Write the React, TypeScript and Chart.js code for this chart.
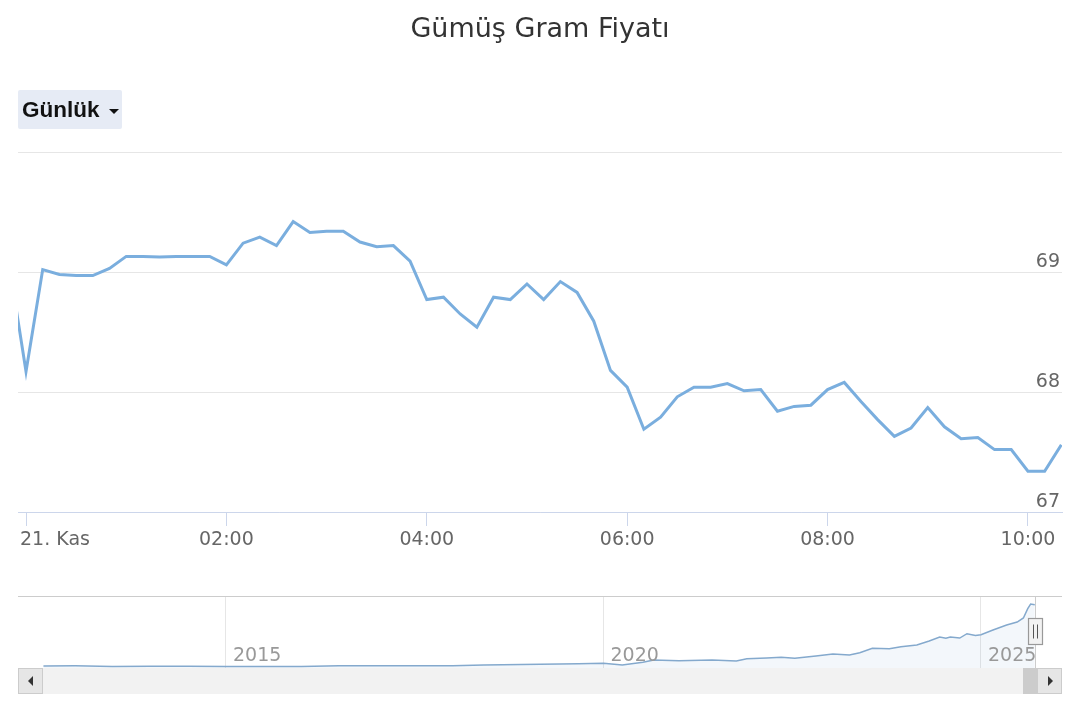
import React, { useEffect, useRef } from "react";
import { Chart, registerables } from "chart.js";

Chart.register(...registerables);

const FONT = "'DejaVu Sans', Verdana, sans-serif";

const chartTitle = "Gümüş Gram Fiyatı";
const rangeLabel = "Günlük";
const dayLabel = "21. Kas";

// intraday price, 10-minute bars (23:50 belongs to the previous evening)
const times = [
  "23:50",
  "00:00", "00:10", "00:20", "00:30", "00:40", "00:50",
  "01:00", "01:10", "01:20", "01:30", "01:40", "01:50",
  "02:00", "02:10", "02:20", "02:30", "02:40", "02:50",
  "03:00", "03:10", "03:20", "03:30", "03:40", "03:50",
  "04:00", "04:10", "04:20", "04:30", "04:40", "04:50",
  "05:00", "05:10", "05:20", "05:30", "05:40", "05:50",
  "06:00", "06:10", "06:20", "06:30", "06:40", "06:50",
  "07:00", "07:10", "07:20", "07:30", "07:40", "07:50",
  "08:00", "08:10", "08:20", "08:30", "08:40", "08:50",
  "09:00", "09:10", "09:20", "09:30", "09:40", "09:50",
  "10:00", "10:10", "10:20",
];
const prices = [
  69.06,
  68.17, 69.02, 68.98, 68.97, 68.97, 69.03,
  69.13, 69.13, 69.125, 69.13, 69.13, 69.13,
  69.06, 69.24, 69.29, 69.22, 69.42, 69.33,
  69.34, 69.34, 69.25, 69.21, 69.22, 69.09,
  68.77, 68.79, 68.65, 68.54, 68.79, 68.77,
  68.9, 68.77, 68.92, 68.83, 68.59, 68.18,
  68.04, 67.69, 67.79, 67.96, 68.04, 68.04,
  68.07, 68.01, 68.02, 67.84, 67.88, 67.89,
  68.02, 68.08, 67.92, 67.77, 67.63, 67.7,
  67.87, 67.71, 67.61, 67.62, 67.52, 67.52,
  67.34, 67.34, 67.56,
];
const xTickTimes = ["00:00", "02:00", "04:00", "06:00", "08:00", "10:00"];
const yTicks = [67, 68, 69, 70];
const yMin = 67;
const yMax = 70;
const viewStartMinute = -4.8;
const viewEndMinute = 620.4;

// navigator: long-run history
const navDates = [
  "2012-08-01", "2013-01-01", "2013-07-01", "2014-01-01", "2014-07-01",
  "2015-01-01", "2015-07-01", "2016-01-01", "2016-07-01", "2017-01-01",
  "2017-07-01", "2018-01-01", "2018-06-01", "2018-09-01", "2019-03-01",
  "2019-09-01", "2020-01-01", "2020-04-01", "2020-07-10", "2020-09-01",
  "2021-01-01", "2021-06-10", "2021-10-05", "2021-11-25", "2022-03-01",
  "2022-05-10", "2022-07-15", "2022-10-25", "2023-01-15", "2023-04-05",
  "2023-05-25", "2023-07-25", "2023-10-15", "2023-12-10", "2024-02-25",
  "2024-04-25", "2024-06-15", "2024-07-15", "2024-08-05", "2024-09-20",
  "2024-10-25", "2024-12-05", "2025-01-01", "2025-02-28", "2025-05-05",
  "2025-06-25", "2025-07-25", "2025-08-15", "2025-08-29", "2025-09-18",
];
const navPrices = [
  2.2, 2.4, 1.8, 1.9, 2.0,
  1.8, 1.8, 1.8, 2.5, 2.5,
  2.4, 2.6, 3.3, 3.6, 4.1,
  4.8, 5.2, 3.3, 6.3, 8.9,
  8.1, 8.9, 7.8, 10.3, 11.2,
  11.9, 10.8, 13.3, 15.6, 14.4,
  17.0, 22.0, 21.4, 23.5, 25.6,
  30.0, 34.4, 33.2, 34.4, 33.3,
  38.1, 36.0, 37.0, 42.2, 47.8,
  51.1, 55.6, 65.9, 71.1, 70.3,
];
const navYearTicks = [2015, 2020, 2025];
const navViewStart = 2012.245;
const navViewEnd = 2026.073;
const navYMin = 0;
const navYMax = 80;

function toMinutes(t: string): number {
  const [h, m] = t.split(":").map(Number);
  let v = h * 60 + m;
  if (h >= 12) v -= 1440;
  return v;
}

function toYear(d: string): number {
  const [y, m, day] = d.split("-").map(Number);
  const t = Date.UTC(y, m - 1, day);
  const s = Date.UTC(y, 0, 1);
  const e = Date.UTC(y + 1, 0, 1);
  return y + (t - s) / (e - s);
}

export default function App() {
  const mainRef = useRef<HTMLCanvasElement>(null);
  const navRef = useRef<HTMLCanvasElement>(null);

  useEffect(() => {
    const labelPlugin = {
      id: "mainLabels",
      afterDraw(chart: any) {
        const { ctx, chartArea, scales } = chart;
        const xs = scales.x;
        const ys = scales.y;
        ctx.save();
        ctx.font = `19px ${FONT}`;
        ctx.fillStyle = "#666666";
        ctx.textBaseline = "middle";
        ctx.textAlign = "left";
        xTickTimes.forEach((t) => {
          const v = toMinutes(t);
          const label = v === 0 ? dayLabel : t;
          const w = ctx.measureText(label).width;
          let left = xs.getPixelForValue(v) - w / 2;
          if (left < chartArea.left + 2) left = chartArea.left + 2;
          ctx.fillText(label, left, chartArea.bottom + 28);
        });
        ctx.textAlign = "right";
        yTicks.forEach((v) => {
          if (v === yMax) return;
          ctx.fillText(String(v), chartArea.right - 2, ys.getPixelForValue(v) - 10);
        });
        ctx.restore();
      },
    };

    const main = new Chart(mainRef.current!, {
      type: "line",
      data: {
        datasets: [
          {
            data: times.map((t, i) => ({ x: toMinutes(t), y: prices[i] })),
            borderColor: "#7aaede",
            borderWidth: 3,
            pointRadius: 0,
            tension: 0,
            fill: false,
            clip: 0,
          },
        ],
      },
      options: {
        responsive: false,
        animation: false,
        devicePixelRatio: 1,
        layout: { padding: { left: 18, right: 18, top: 0, bottom: 0 } },
        plugins: {
          legend: { display: false },
          tooltip: { enabled: false },
          title: {
            display: true,
            text: chartTitle,
            color: "#333333",
            font: { family: FONT, size: 27, weight: "normal" },
            padding: { top: 14, bottom: 152 - 14 - 27 * 1.2 },
          },
        },
        scales: {
          x: {
            type: "linear",
            min: viewStartMinute,
            max: viewEndMinute,
            afterBuildTicks: (s: any) => {
              s.ticks = xTickTimes.map((t) => ({ value: toMinutes(t) }));
            },
            afterFit: (s: any) => {
              s.height = 48;
            },
            ticks: { display: false },
            grid: {
              drawOnChartArea: false,
              drawTicks: true,
              tickLength: 14,
              color: "#ccd6eb",
            },
            border: { display: true, color: "#ccd6eb", width: 1 },
          },
          y: {
            type: "linear",
            position: "right",
            min: yMin,
            max: yMax,
            afterBuildTicks: (s: any) => {
              s.ticks = yTicks.map((v) => ({ value: v }));
            },
            afterFit: (s: any) => {
              s.width = 0;
            },
            ticks: { display: false },
            grid: { color: "#e6e6e6", drawTicks: false },
            border: { display: false },
          },
        },
      },
      plugins: [labelPlugin],
    } as any);

    const lastYear = toYear(navDates[navDates.length - 1]);
    const navPlugin = {
      id: "navDecor",
      afterDraw(chart: any) {
        const { ctx, chartArea: ca, scales } = chart;
        const xs = scales.x;
        ctx.save();
        ctx.strokeStyle = "#cccccc";
        ctx.lineWidth = 1;
        ctx.beginPath();
        ctx.moveTo(ca.left, ca.top + 0.5);
        ctx.lineTo(ca.right, ca.top + 0.5);
        ctx.stroke();
        const endX = Math.round(xs.getPixelForValue(lastYear)) + 0.5;
        ctx.beginPath();
        ctx.moveTo(endX, ca.top);
        ctx.lineTo(endX, ca.bottom);
        ctx.stroke();
        ctx.font = `19px ${FONT}`;
        ctx.fillStyle = "#999999";
        ctx.textAlign = "left";
        ctx.textBaseline = "alphabetic";
        navYearTicks.forEach((y) => {
          ctx.fillText(String(y), xs.getPixelForValue(y) + 7, ca.bottom - 7.5);
        });
        const hx = endX - 7;
        const hy = ca.top + 22.5;
        ctx.fillStyle = "#f2f2f2";
        ctx.fillRect(hx, hy, 14, 26);
        ctx.strokeStyle = "#999999";
        ctx.lineWidth = 1.2;
        ctx.strokeRect(hx, hy, 14, 26);
        ctx.strokeStyle = "#555555";
        ctx.lineWidth = 1;
        ctx.beginPath();
        ctx.moveTo(endX - 2, hy + 6);
        ctx.lineTo(endX - 2, hy + 20);
        ctx.moveTo(endX + 2, hy + 6);
        ctx.lineTo(endX + 2, hy + 20);
        ctx.stroke();
        ctx.restore();
      },
    };

    const nav = new Chart(navRef.current!, {
      type: "line",
      data: {
        datasets: [
          {
            data: navDates.map((d, i) => ({ x: toYear(d), y: navPrices[i] })),
            borderColor: "#84a9cd",
            borderWidth: 1.5,
            backgroundColor: "rgba(124,170,215,0.09)",
            fill: "start",
            pointRadius: 0,
            tension: 0,
          },
        ],
      },
      options: {
        responsive: false,
        animation: false,
        devicePixelRatio: 1,
        layout: { padding: { left: 18, right: 18, top: 16, bottom: 12 } },
        plugins: {
          legend: { display: false },
          tooltip: { enabled: false },
          title: { display: false },
        },
        scales: {
          x: {
            type: "linear",
            min: navViewStart,
            max: navViewEnd,
            afterBuildTicks: (s: any) => {
              s.ticks = navYearTicks.map((v) => ({ value: v }));
            },
            afterFit: (s: any) => {
              s.height = 0;
            },
            ticks: { display: false },
            grid: { color: "#e6e6e6", drawTicks: false },
            border: { display: false },
          },
          y: {
            type: "linear",
            display: false,
            min: navYMin,
            max: navYMax,
          },
        },
      },
      plugins: [navPlugin],
    } as any);

    return () => {
      main.destroy();
      nav.destroy();
    };
  }, []);

  const btnBase: React.CSSProperties = {
    position: "absolute",
    top: 668,
    width: 25,
    height: 26,
    background: "#e6e6e6",
    border: "1px solid #cccccc",
    boxSizing: "border-box",
  };

  return (
    <div
      style={{
        position: "absolute",
        left: 0,
        top: 0,
        width: 1080,
        height: 720,
        background: "#ffffff",
        overflow: "hidden",
      }}
    >
      <canvas
        ref={mainRef}
        width={1080}
        height={560}
        style={{ position: "absolute", left: 0, top: 0, width: 1080, height: 560 }}
      />
      <div
        style={{
          position: "absolute",
          left: 18,
          top: 90,
          width: 104,
          height: 39,
          background: "#e6ebf5",
          borderRadius: 2,
          boxSizing: "border-box",
        }}
      >
        <span
          style={{
            position: "absolute",
            left: 4,
            top: 0,
            lineHeight: "39px",
            fontFamily: "'Liberation Sans', Arial, sans-serif",
            fontWeight: "bold",
            fontSize: 22.5,
            color: "#111111",
          }}
        >
          {rangeLabel}
        </span>
        <span
          style={{
            position: "absolute",
            left: 91,
            top: 19,
            width: 0,
            height: 0,
            borderLeft: "5px solid transparent",
            borderRight: "5px solid transparent",
            borderTop: "5px solid #111111",
          }}
        />
      </div>
      <canvas
        ref={navRef}
        width={1080}
        height={100}
        style={{ position: "absolute", left: 0, top: 580, width: 1080, height: 100 }}
      />
      <div
        style={{
          position: "absolute",
          left: 18,
          top: 668,
          width: 1044,
          height: 26,
          background: "#f2f2f2",
        }}
      />
      <div
        style={{
          position: "absolute",
          left: 1023,
          top: 668,
          width: 14,
          height: 26,
          background: "#cccccc",
        }}
      />
      <div style={{ ...btnBase, left: 18 }}>
        <span
          style={{
            position: "absolute",
            left: 9,
            top: 7,
            width: 0,
            height: 0,
            borderTop: "5px solid transparent",
            borderBottom: "5px solid transparent",
            borderRight: "5px solid #333333",
          }}
        />
      </div>
      <div style={{ ...btnBase, left: 1037 }}>
        <span
          style={{
            position: "absolute",
            left: 10,
            top: 7,
            width: 0,
            height: 0,
            borderTop: "5px solid transparent",
            borderBottom: "5px solid transparent",
            borderLeft: "5px solid #333333",
          }}
        />
      </div>
    </div>
  );
}
